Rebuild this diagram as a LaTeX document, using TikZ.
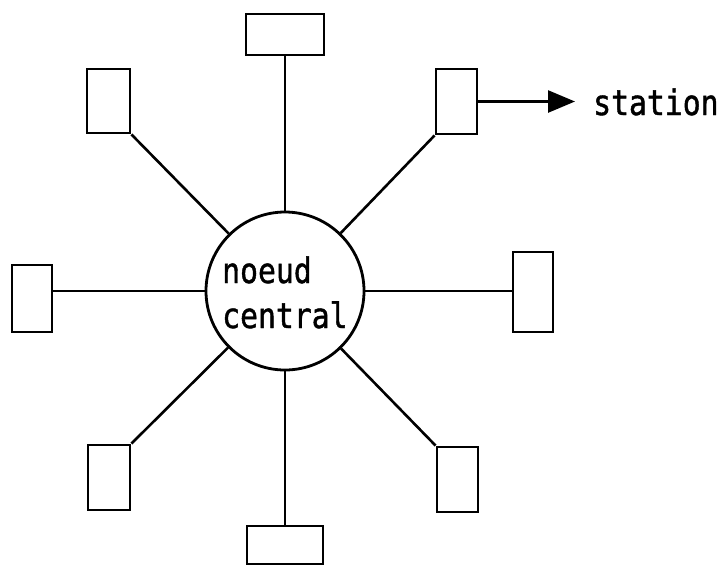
\documentclass[tikz,border=0pt]{standalone}
\usepackage{fontspec}
\newfontfamily\plotfont[FakeStretch=0.85,FakeBold=1.2]{DejaVu Sans Mono}
\usetikzlibrary{arrows.meta}
\begin{document}
\begin{tikzpicture}[x=1pt,y=-1pt,
  ln/.style={line width=2.6pt},
  stn/.style={draw,line width=2.8pt,rectangle,inner sep=0pt},
  lbl/.style={font=\plotfont\fontsize{35}{40}\selectfont,inner sep=0pt,anchor=base west}]
\useasboundingbox (0,0) rectangle (719,566);
\node[draw,circle,line width=2.8pt,minimum size=158pt,inner sep=0pt] (c) at (285,291) {};
\node[lbl] (n1) at (222,283) {noeud};
\node[lbl] (n2) at (222,328) {central};
\node[stn,minimum width=78pt,minimum height=41pt] (t) at (285,34.5) {};
\node[stn,minimum width=76pt,minimum height=38pt] (b) at (285,545) {};
\node[stn,minimum width=40pt,minimum height=67pt] (l) at (32,298.5) {};
\node[stn,minimum width=40pt,minimum height=80pt] (r) at (533,292) {};
\node[stn,minimum width=43pt,minimum height=64pt] (tl) at (108.5,101) {};
\node[stn,minimum width=41pt,minimum height=65pt] (tr) at (456.5,101.5) {};
\node[stn,minimum width=42pt,minimum height=65pt] (bl) at (109,477.5) {};
\node[stn,minimum width=41pt,minimum height=65pt] (br) at (457.5,479.5) {};
\node[lbl] (st) at (593,115) {station};
\draw[ln] (c) -- (t);
\draw[ln] (c) -- (b);
\draw[ln] (c) -- (l.east |- c);
\draw[ln] (c) -- (r.west |- c);
\draw[ln] (c) -- (tl.south east);
\draw[ln] (c) -- (tr.south west);
\draw[ln] (c) -- (bl.north east);
\draw[ln] (c) -- (br.north west);
\draw[ln,-{Triangle[length=27pt,width=22pt]},shorten >=18pt] (tr.east) -- (st.west |- tr.east);
\end{tikzpicture}
\end{document}
